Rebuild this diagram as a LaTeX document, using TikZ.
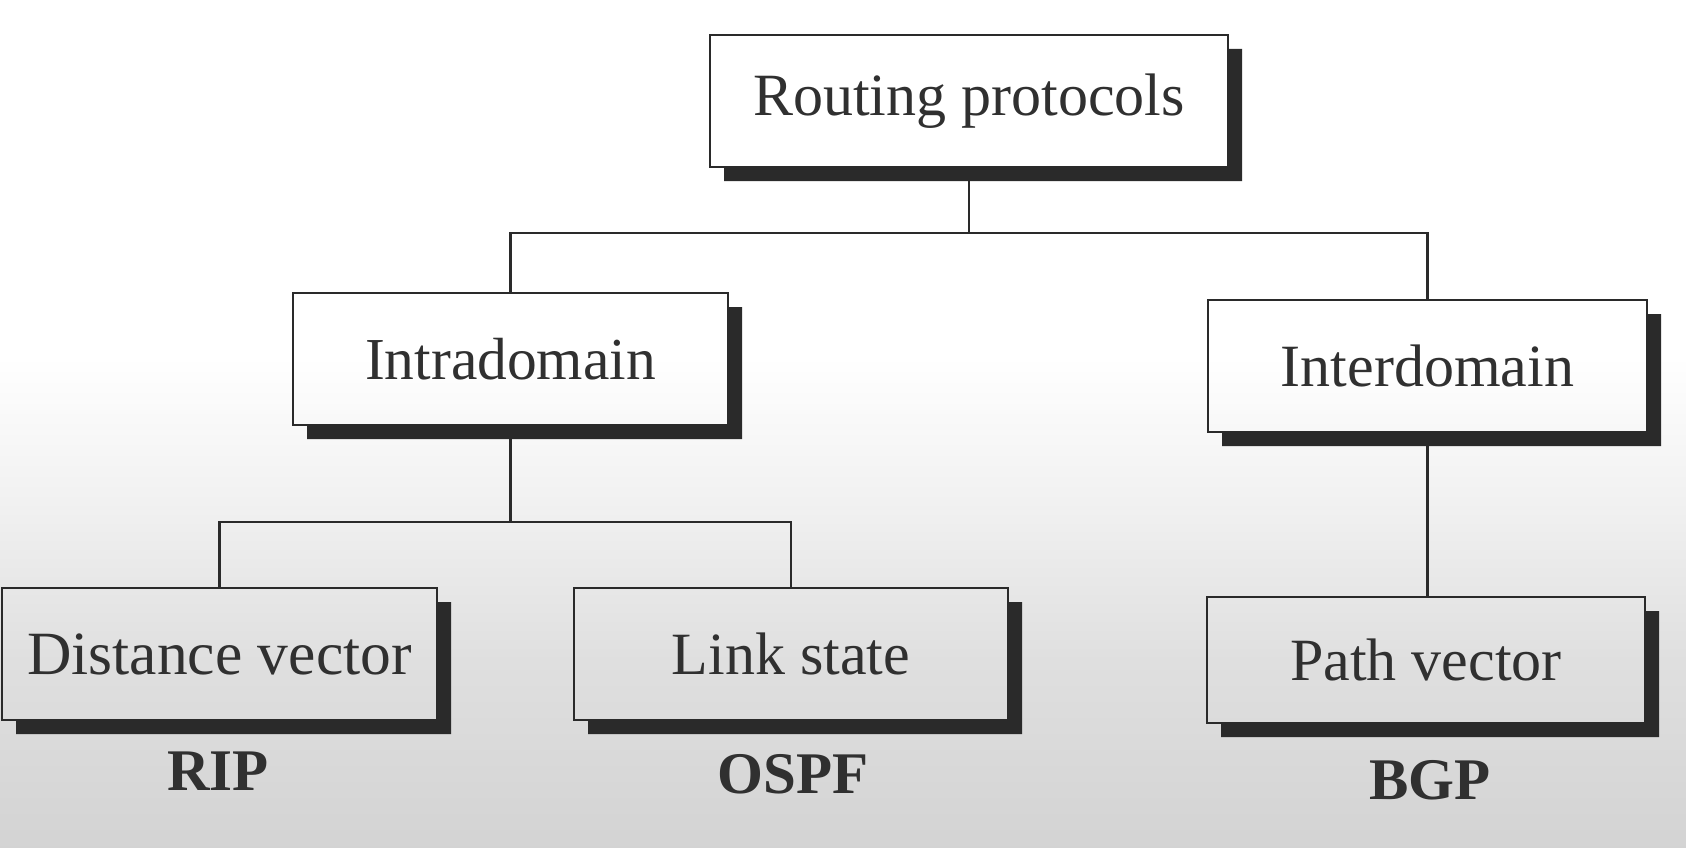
\documentclass[tikz,border=0pt]{standalone}
\usepackage{fontspec}
\setmainfont{Liberation Serif}
\usetikzlibrary{calc}
\definecolor{bgbot}{HTML}{BABABA}
\definecolor{bga}{HTML}{CECECE}
\definecolor{bgb}{HTML}{DFDFDF}
\definecolor{bgc}{HTML}{F2F2F2}
\definecolor{inkc}{HTML}{2A2A2A}
\definecolor{txtc}{HTML}{303030}
\pgfdeclareverticalshading{bgshade}{100bp}{color(0bp)=(bgbot); color(20bp)=(bga); color(36bp)=(bgb); color(46bp)=(bgc); color(54bp)=(white); color(100bp)=(white)}
\newcommand\boxshadow[1]{%
  \fill[inkc] ($(#1.north east)+(0,14)$) -- ++(14,0) -- ($(#1.south east)+(14,14)$)
     -- ($(#1.south west)+(14,14)$) -- ($(#1.south west)+(14,0)$) -- (#1.south east) -- cycle;}
\begin{document}
\begin{tikzpicture}[x=1pt,y=-1pt,
  pbox/.style={draw=inkc, line width=2.6pt, rectangle, inner sep=0pt, outer sep=0pt,
               text=txtc, align=center},
  conn/.style={draw=inkc, line width=2.6pt},
  proto/.style={text=txtc, font=\fontsize{59}{62}\selectfont\bfseries, inner sep=0pt}]
\useasboundingbox (0,0) rectangle (1686,848);
\shade[shading=bgshade] (0,0) rectangle (1686,848);

\node[pbox, minimum width=518pt, minimum height=132pt, font=\fontsize{60}{64}\selectfont] (root) at (969,101) {Routing protocols};
\node[pbox, minimum width=435pt, minimum height=132pt, font=\fontsize{59.5}{64}\selectfont] (intra) at (510.5,359) {Intradomain};
\node[pbox, minimum width=439pt, minimum height=132pt, font=\fontsize{60}{64}\selectfont] (inter) at (1427.5,366) {Interdomain};
\node[pbox, minimum width=435pt, minimum height=132pt, font=\fontsize{61.5}{64}\selectfont] (dv) at (219.5,654) {Distance vector};
\node[pbox, minimum width=434pt, minimum height=132pt, font=\fontsize{60}{64}\selectfont] (ls) at (791,654) {Link state};
\node[pbox, minimum width=438pt, minimum height=126pt, font=\fontsize{60}{64}\selectfont] (pv) at (1426,660) {Path vector};

\node[proto] (rip) at (218,771) {RIP};
\node[proto] (ospf) at (793,774) {OSPF};
\node[proto] (bgp) at (1430,780) {BGP};

\coordinate (j1) at (969,233);
\coordinate (j2) at (510.5,522);
\draw[conn] (root.south) -- (j1);
\draw[conn] (intra.north) |- (j1) -| (inter.north);
\draw[conn] (intra.south) -- (j2);
\draw[conn] (dv.north) |- (j2) -| (ls.north);
\draw[conn] (inter.south) -- (inter.south |- pv.north);

\boxshadow{root}
\boxshadow{intra}
\boxshadow{inter}
\boxshadow{dv}
\boxshadow{ls}
\boxshadow{pv}
\end{tikzpicture}
\end{document}
